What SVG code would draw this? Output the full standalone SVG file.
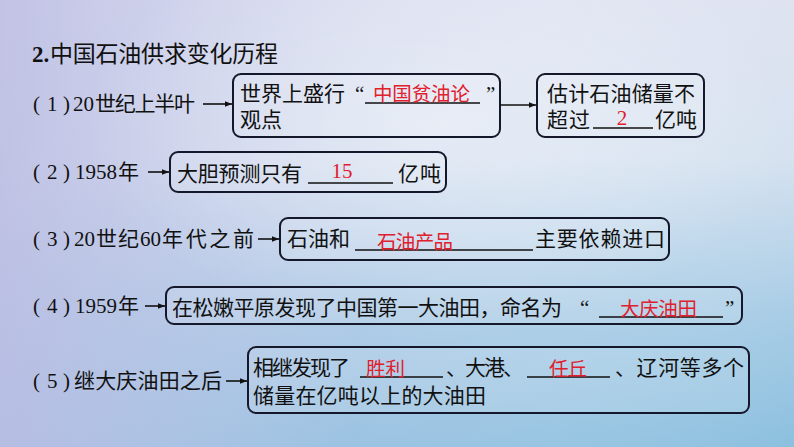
<svg xmlns="http://www.w3.org/2000/svg" width="794" height="447" viewBox="0 0 794 447">
<defs>
<linearGradient id="bgv" x1="0" y1="0" x2="0" y2="1">
<stop offset="0" stop-color="#dfe3f1"/>
<stop offset="0.35" stop-color="#d6e2f0"/>
<stop offset="0.7" stop-color="#a9cde6"/>
<stop offset="1" stop-color="#8cc0df"/>
</linearGradient>
<linearGradient id="bgh" x1="0" y1="0" x2="1" y2="0">
<stop offset="0" stop-color="#bdbde3" stop-opacity="0.85"/>
<stop offset="0.45" stop-color="#c8cbea" stop-opacity="0.25"/>
<stop offset="1" stop-color="#ffffff" stop-opacity="0"/>
</linearGradient>
<radialGradient id="glow" cx="0.55" cy="0.28" r="0.45">
<stop offset="0" stop-color="#ffffff" stop-opacity="0.35"/>
<stop offset="1" stop-color="#ffffff" stop-opacity="0"/>
</radialGradient>
<marker id="ah" viewBox="0 0 10 10" refX="10" refY="5" markerWidth="7" markerHeight="7" markerUnits="userSpaceOnUse" orient="auto">
<path d="M0,1 L10,5 L0,9 Z" fill="#111"/>
</marker>
<style>
.bx{fill:#ffffff;fill-opacity:0.12;stroke:#15182a;stroke-width:2}
.t{font-family:"Liberation Serif","Noto Sans CJK SC",serif;font-size:21px;fill:#111}
.lb{font-family:"Noto Sans CJK SC",sans-serif;font-size:21px;fill:#111}
.d{font-family:"Liberation Serif",serif;font-size:21px;fill:#111}
.r{font-family:"Liberation Serif","Noto Sans CJK SC",serif;font-size:19.5px;fill:#e0202c}
.q{font-family:"Liberation Serif",serif;font-size:21px;fill:#111}
.ul{stroke:#111;stroke-width:1.5}
.ar{stroke:#111;stroke-width:1.6;fill:none}
</style>
</defs>
<rect x="0" y="0" width="794" height="447" fill="url(#bgv)"/>
<rect x="0" y="0" width="794" height="447" fill="url(#bgh)"/>
<rect x="0" y="0" width="794" height="447" fill="url(#glow)"/>

<g id="title">
<text x="32" y="62" style="font-family:'Liberation Serif',serif;font-size:23px;font-weight:bold;fill:#111">2.</text>
<text x="50" y="62" textLength="228" style="font-family:'Noto Sans CJK SC',sans-serif;font-size:23px;fill:#111">中国石油供求变化历程</text>
</g>

<g id="label1">
<text class="d" y="111"><tspan x="33">(</tspan><tspan x="47">1</tspan><tspan x="63">)</tspan><tspan x="73">20</tspan></text>
<text class="lb" x="95" y="111" textLength="100">世纪上半叶</text>
</g>
<g id="box1">
<rect class="bx" x="233" y="74" width="267" height="63" rx="8"/>
<text class="t" x="240" y="101" textLength="105">世界上盛行</text>
<text class="q" x="355" y="101">“</text>
<line class="ul" x1="365" y1="103" x2="480" y2="103"/>
<text class="r" x="373" y="101" textLength="97">中国贫油论</text>
<text class="q" x="486" y="101">”</text>
<text class="t" x="240" y="127" textLength="42">观点</text>
</g>
<g id="box2">
<rect class="bx" x="537" y="74" width="167" height="63" rx="8"/>
<text class="t" x="547" y="101" textLength="148">估计石油储量不</text>
<text class="t" x="547" y="127" textLength="43">超过</text>
<line class="ul" x1="593" y1="128" x2="653" y2="128"/>
<text class="r" x="622" y="125" text-anchor="middle" style="font-size:21px">2</text>
<text class="t" x="655" y="127" textLength="42">亿吨</text>
</g>

<g id="label2">
<text class="d" y="179"><tspan x="33">(</tspan><tspan x="47">2</tspan><tspan x="63">)</tspan><tspan x="75">1958</tspan></text>
<text class="lb" x="118" y="179">年</text>
</g>
<g id="box3">
<rect class="bx" x="170" y="152" width="276" height="40" rx="8"/>
<text class="t" x="177" y="181" textLength="125">大胆预测只有</text>
<line class="ul" x1="308" y1="183" x2="393" y2="183"/>
<text class="r" x="342" y="178" text-anchor="middle" style="font-size:21px">15</text>
<text class="t" x="398" y="181" textLength="43">亿吨</text>
</g>

<g id="label3">
<text class="d" y="246"><tspan x="33">(</tspan><tspan x="47">3</tspan><tspan x="63">)</tspan><tspan x="74">20</tspan></text>
<text class="lb" x="96" y="246" textLength="43">世纪</text>
<text class="d" x="140" y="246">60</text>
<text class="lb" x="162" y="246" textLength="92">年代之前</text>
</g>
<g id="box4">
<rect class="bx" x="280" y="218" width="389" height="42" rx="8"/>
<text class="t" x="287" y="246" textLength="63">石油和</text>
<line class="ul" x1="355" y1="250" x2="533" y2="250"/>
<text class="r" x="377" y="249" textLength="76">石油产品</text>
<text class="t" x="535" y="246" textLength="130">主要依赖进口</text>
</g>

<g id="label4">
<text class="d" y="313"><tspan x="33">(</tspan><tspan x="47">4</tspan><tspan x="63">)</tspan><tspan x="75">1959</tspan></text>
<text class="lb" x="118" y="313">年</text>
</g>
<g id="box5">
<rect class="bx" x="166" y="287" width="576" height="37" rx="8"/>
<text class="t" x="172" y="315" textLength="390">在松嫩平原发现了中国第一大油田，命名为</text>
<text class="q" x="580" y="315">“</text>
<line class="ul" x1="599" y1="317" x2="723" y2="317"/>
<text class="r" x="620" y="316" textLength="77">大庆油田</text>
<text class="q" x="725" y="315">”</text>
</g>

<g id="label5">
<text class="d" y="388"><tspan x="33">(</tspan><tspan x="47">5</tspan><tspan x="63">)</tspan></text>
<text class="lb" x="74" y="388" textLength="148">继大庆油田之后</text>
</g>
<g id="box6">
<rect class="bx" x="248" y="347" width="501" height="66" rx="8"/>
<text class="t" x="253" y="375" textLength="97">相继发现了</text>
<line class="ul" x1="360" y1="377" x2="443" y2="377"/>
<text class="r" x="366" y="376" textLength="39">胜利</text>
<text class="t" x="446" y="375" textLength="78">、大港、</text>
<line class="ul" x1="527" y1="377" x2="610" y2="377"/>
<text class="r" x="549" y="376" textLength="38">任丘</text>
<text class="t" x="615" y="375" textLength="129">、辽河等多个</text>
<text class="t" x="253" y="403" textLength="233">储量在亿吨以上的大油田</text>
</g>

<g id="connectors">
<line class="ar" x1="203" y1="104" x2="232" y2="104" marker-end="url(#ah)"/>
<line class="ar" x1="500" y1="105" x2="536" y2="105" marker-end="url(#ah)"/>
<line class="ar" x1="148" y1="172" x2="169" y2="172" marker-end="url(#ah)"/>
<line class="ar" x1="258" y1="239" x2="279" y2="239" marker-end="url(#ah)"/>
<line class="ar" x1="145" y1="306" x2="165" y2="306" marker-end="url(#ah)"/>
<line class="ar" x1="226" y1="381" x2="247" y2="381" marker-end="url(#ah)"/>
</g>
</svg>
